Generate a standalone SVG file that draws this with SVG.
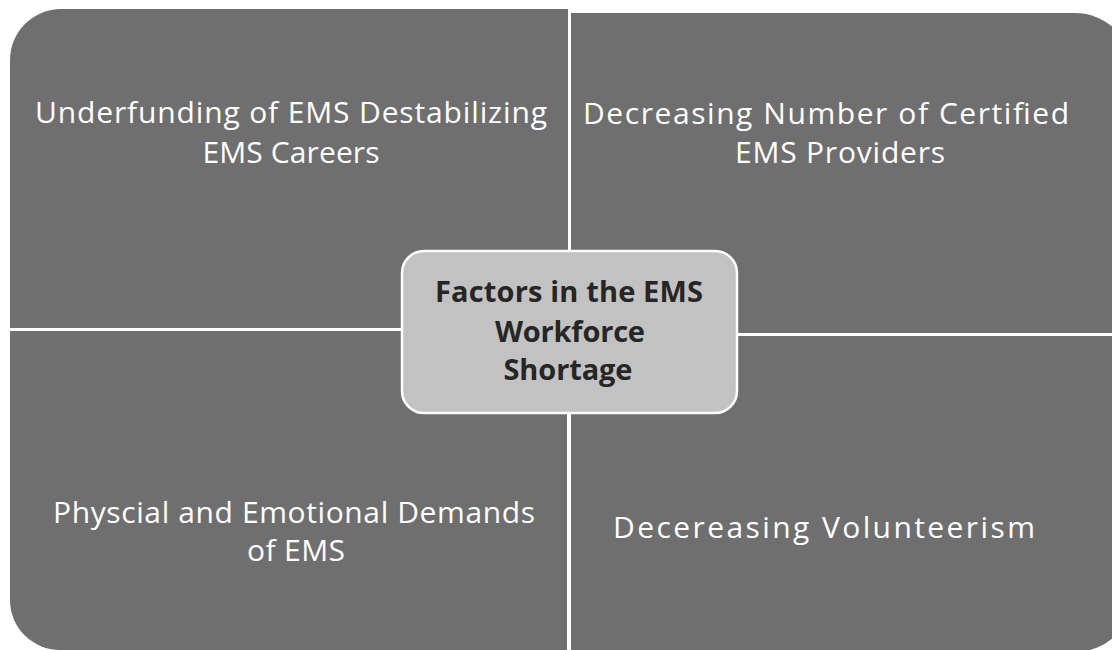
<svg xmlns="http://www.w3.org/2000/svg" width="1112" height="650" viewBox="0 0 1112 650">
<style>
.q{fill:#6f6f6f}
.qt{font-family:"Open Sans","Noto Sans",sans-serif;font-size:30px;fill:#ffffff;text-anchor:middle}
.ct{font-family:"Open Sans","Noto Sans",sans-serif;font-size:29px;font-weight:bold;fill:#262626;text-anchor:middle}
</style>
<rect width="1112" height="650" fill="#ffffff"/>
<g id="q-top-left">
<path class="q" d="M10,328 V60 A51,51 0 0 1 61,9 H568 V328 Z"/>
<text class="qt" x="291" y="123" textLength="512" lengthAdjust="spacing">Underfunding of EMS Destabilizing</text>
<text class="qt" x="291" y="163" textLength="177" lengthAdjust="spacing">EMS Careers</text>
</g>
<g id="q-top-right">
<path class="q" d="M571,333 V13 H1075 A58,58 0 0 1 1133,71 V333 Z"/>
<text class="qt" x="826" y="124" textLength="486" lengthAdjust="spacing">Decreasing Number of Certified</text>
<text class="qt" x="840" y="163" textLength="210" lengthAdjust="spacing">EMS Providers</text>
</g>
<g id="q-bottom-left">
<path class="q" d="M10,331 V600 A50,50 0 0 0 60,650 H567 V331 Z"/>
<text class="qt" x="294" y="523" textLength="482" lengthAdjust="spacing">Physcial and Emotional Demands</text>
<text class="qt" x="296" y="561" textLength="98" lengthAdjust="spacing">of EMS</text>
</g>
<g id="q-bottom-right">
<path class="q" d="M571,336 V652 H1075 A58,58 0 0 0 1133,594 V336 Z"/>
<text class="qt" x="824" y="538" textLength="422" lengthAdjust="spacing">Decereasing Volunteerism</text>
</g>
<g id="connectors"></g>
<g id="center">
<rect x="402" y="251" width="335" height="162" rx="22" fill="#c2c2c2" stroke="#ffffff" stroke-width="2.5"/>
<text class="ct" x="569" y="302" textLength="268" lengthAdjust="spacing">Factors in the EMS</text>
<text class="ct" x="570" y="342" textLength="150" lengthAdjust="spacing">Workforce</text>
<text class="ct" x="568" y="380" textLength="129" lengthAdjust="spacing">Shortage</text>
</g>
</svg>
